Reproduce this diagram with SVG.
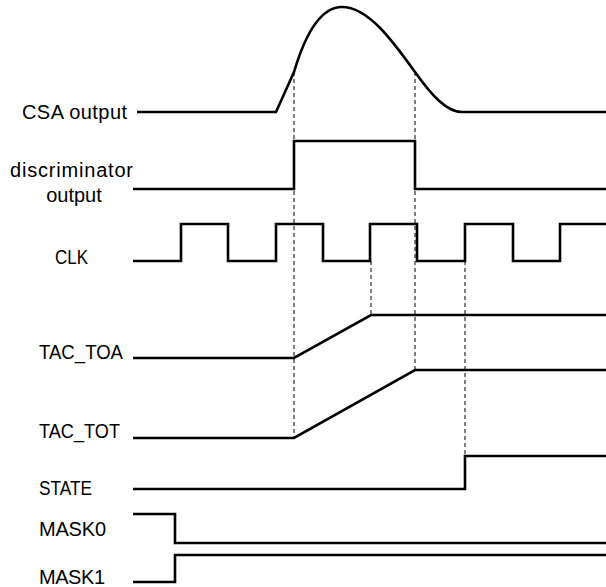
<svg xmlns="http://www.w3.org/2000/svg" width="606" height="587" viewBox="0 0 606 587">
<style>
.w{fill:none;stroke:#000;stroke-width:2.6;stroke-linejoin:miter}
.d{fill:none;stroke:#000;stroke-width:1;stroke-dasharray:4 3}
text{font-family:"Liberation Sans",Arial,sans-serif;font-size:20px;fill:#000}
</style>
<rect width="606" height="587" fill="#fff"/>
<g id="guides">
<line class="d" x1="294" y1="72" x2="294" y2="438"/>
<line class="d" x1="415" y1="72" x2="415" y2="370"/>
<line class="d" x1="371" y1="261" x2="371" y2="315"/>
<line class="d" x1="465" y1="261" x2="465" y2="456"/>
</g>
<g id="csa">
<text x="22" y="119" textLength="105">CSA output</text>
<path class="w" d="M137,112 H276 L294,72 C305,35 320,7 342,7 C368,7 392,40 415,72 C432,96 447,112 462,112 H606"/>
</g>
<g id="disc">
<text x="10" y="177" textLength="123">discriminator</text>
<text x="74" y="202" text-anchor="middle">output</text>
<path class="w" d="M133,189 H294 V141 H415 V189 H606"/>
</g>
<g id="clk">
<text x="55" y="264" textLength="33" lengthAdjust="spacingAndGlyphs">CLK</text>
<path class="w" d="M133,261 H181 V224 H228 V261 H276 V224 H323 V261 H370 V224 H417 V261 H465 V224 H513 V261 H560 V224 H606"/>
</g>
<g id="toa">
<text x="39" y="359" textLength="84" lengthAdjust="spacingAndGlyphs">TAC_TOA</text>
<path class="w" d="M133,358 H294 L371,315 H606"/>
</g>
<g id="tot">
<text x="39" y="438" textLength="81" lengthAdjust="spacingAndGlyphs">TAC_TOT</text>
<path class="w" d="M133,438 H294 L415,370 H606"/>
</g>
<g id="state">
<text x="39" y="495" textLength="53" lengthAdjust="spacingAndGlyphs">STATE</text>
<path class="w" d="M133,489 H465 V456 H606"/>
</g>
<g id="mask0">
<text x="39" y="536" textLength="67">MASK0</text>
<path class="w" d="M133,514 H175 V543 H606"/>
</g>
<g id="mask1">
<text x="39" y="584" textLength="66">MASK1</text>
<path class="w" d="M133,582 H175 V555 H606"/>
</g>
</svg>
